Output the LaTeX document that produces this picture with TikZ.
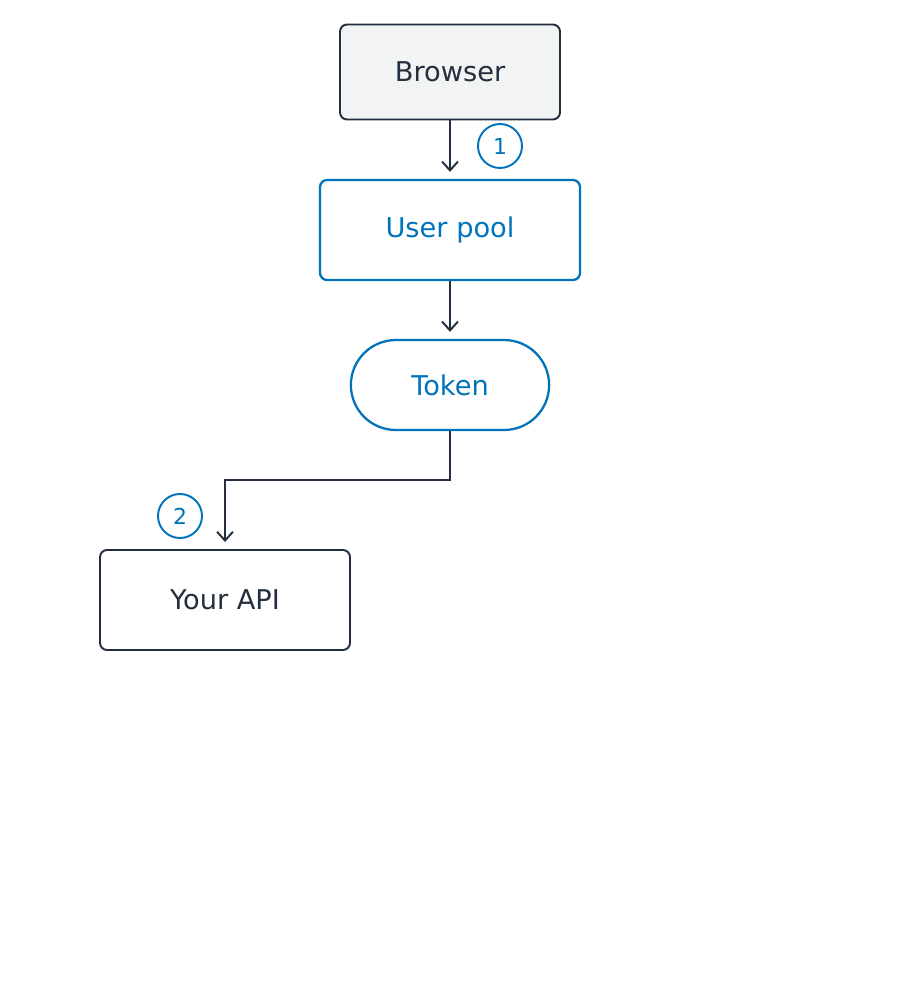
\documentclass[tikz,border=0pt]{standalone}
\usepackage{fontspec}
\setmainfont{DejaVu Sans}
\usetikzlibrary{positioning, shapes.misc, arrows.meta}
\definecolor{ink}{HTML}{232F3E}
\definecolor{awsblue}{HTML}{0073BB}
\definecolor{pale}{HTML}{F2F3F3}
\tikzset{%
	box/.style={draw=ink, line width=1.1pt, rectangle, rounded corners=4pt, minimum width=4.4cm,%
		minimum height=1.9cm, text=ink, font=\fontsize{15.5}{18}\selectfont},
	bluebox/.style={box, draw=awsblue, line width=1.3pt, text=awsblue, minimum width=5.2cm, minimum height=2cm},
	pill/.style={draw=awsblue, line width=1.3pt, rounded rectangle, minimum width=4.2cm,%
		minimum height=1.8cm, text=awsblue, font=\fontsize{15.5}{18}\selectfont},
	badge/.style={draw=awsblue, line width=1.1pt, circle, minimum size=0.88cm, inner sep=0mm,%
		text=awsblue, font=\fontsize{12.5}{14}\selectfont},
	flow/.style={-{Straight Barb[length=5pt, width=9pt, line width=1.1pt]}, line width=1.1pt,%
		draw=ink, shorten >=4pt}
}
\begin{document}
\begin{tikzpicture}[x=0.02cm, y=-0.02cm]
	\useasboundingbox (0,0) rectangle (900,1000);
	\node[box, fill=pale] (browser) at (450,72) {Browser};
	\node[bluebox] (pool) at (450,230) {User pool};
	\node[pill] (token) at (450,385) {Token};
	\node[box, minimum width=5cm, minimum height=2cm] (api) at (225,600) {Your API};
	\node[badge] (s1) at (500,146) {1};
	\node[badge] (s2) at (180,516) {2};
	\coordinate (bend) at (450,480);

	\draw [flow] (browser) -- (pool);
	\draw [flow] (pool) -- (token);
	\draw [flow] (token) -- (bend) -| (api);
\end{tikzpicture}
\end{document}
